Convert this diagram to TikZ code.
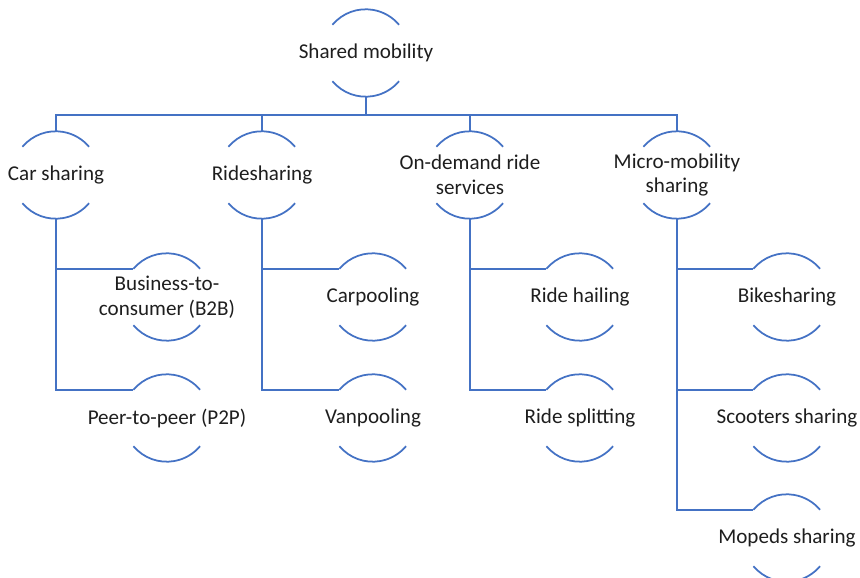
\documentclass[tikz,border=0pt]{standalone}
\usepackage{fontspec}
\setmainfont{Carlito}
\usepackage{xcolor}
\usetikzlibrary{positioning,calc}
\definecolor{smartBlue}{RGB}{68,114,196}
\definecolor{smartText}{RGB}{30,30,30}

\begin{document}
\begin{tikzpicture}[x=0.02cm,y=0.02cm,
  mob/.style={circle,minimum size=1.74cm,inner sep=0pt,
    label={[mobtext]center:#1}},
  mobtext/.style={align=center,font=\fontsize{12}{14}\selectfont,text=smartText},
  link/.style={draw=smartBlue,line width=1pt}]
  \useasboundingbox (0,0) rectangle (860,578);
  % root
  \node[mob={Shared mobility}] (root) at (366,525) {};
  \coordinate (bus) at (366,463);
  % first level
  \node[mob={Car sharing}]                (car)   at (56,403)  {};
  \node[mob={Ridesharing}]                (ride)  at (262,403) {};
  \node[mob={On-demand ride\\services}]   (onde)  at (470,403) {};
  \node[mob={Micro-mobility\\sharing}]    (micro) at (677,403) {};
  % second level
  \node[mob={Business-to-\\consumer (B2B)}] (btoc)  at (167,281) {};
  \node[mob={Peer-to-peer (P2P)}]           (ptop)  at (167,160) {};
  \node[mob={Carpooling}]                   (carp)  at (373,281) {};
  \node[mob={Vanpooling}]                   (vanp)  at (373,160) {};
  \node[mob={Ride hailing}]                 (hail)  at (580,281) {};
  \node[mob={Ride splitting}]               (split) at (580,160) {};
  \node[mob={Bikesharing}]                  (bike)  at (787,281) {};
  \node[mob={Scooters sharing}]             (scoot) at (787,160) {};
  \node[mob={Mopeds sharing}]               (moped) at (787,40)  {};
  % arcs above and below the labels
  \foreach \n in {root,car,ride,onde,micro,btoc,ptop,carp,vanp,hail,split,bike,scoot,moped} {
    \draw[link] (\n.140) arc[start angle=140,end angle=40,radius=0.87cm];
    \draw[link] (\n.220) arc[start angle=220,end angle=320,radius=0.87cm];
  }
  % connectors
  \draw[link] (root.south) -- (bus);
  \foreach \n in {car,ride,onde,micro} \draw[link] (\n.north) |- (bus);
  \draw[link] (car.south) |- (btoc.140);
  \draw[link] (car.south) |- (ptop.140);
  \draw[link] (ride.south) |- (carp.140);
  \draw[link] (ride.south) |- (vanp.140);
  \draw[link] (onde.south) |- (hail.140);
  \draw[link] (onde.south) |- (split.140);
  \draw[link] (micro.south) |- (bike.140);
  \draw[link] (micro.south) |- (scoot.140);
  \draw[link] (micro.south) |- (moped.140);
\end{tikzpicture}
\end{document}
